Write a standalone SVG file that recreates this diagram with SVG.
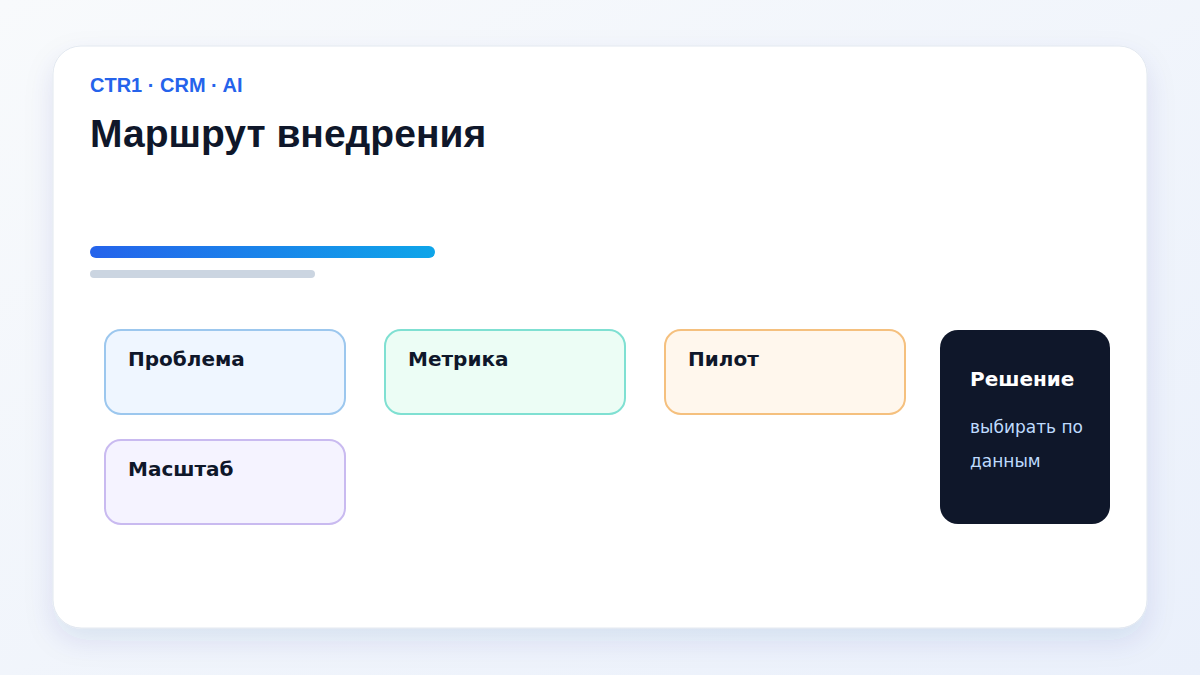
<svg xmlns="http://www.w3.org/2000/svg" width="1200" height="675" viewBox="0 0 1200 675">
<defs>
<linearGradient id="bg" x1="0" y1="0" x2="1" y2="1">
<stop offset="0" stop-color="#f8fafc"/>
<stop offset="1" stop-color="#eaf0fb"/>
</linearGradient>
<linearGradient id="bar" x1="0" y1="0" x2="1" y2="0">
<stop offset="0" stop-color="#2563eb"/>
<stop offset="1" stop-color="#0ea5e9"/>
</linearGradient>
<filter id="sh" x="-10%" y="-10%" width="120%" height="130%">
<feDropShadow dx="0" dy="12" stdDeviation="14" flood-color="#1e3a8a" flood-opacity="0.10"/>
</filter>
<style>
.t{font-family:"DejaVu Sans",sans-serif;font-weight:bold;font-size:20px;fill:#0f172a}
.box{stroke-width:2}
</style>
</defs>
<rect width="1200" height="675" fill="url(#bg)"/>
<rect x="53" y="46" width="1094" height="582" rx="28" fill="#ffffff" stroke="#e2e8f0" stroke-width="1" filter="url(#sh)"/>
<text x="90" y="92" font-family="'Liberation Sans',Arial,sans-serif" font-weight="bold" font-size="20" fill="#2563eb">CTR1 · CRM · AI</text>
<text x="90" y="147" font-family="'Liberation Sans',Arial,sans-serif" font-weight="bold" font-size="39" fill="#0f172a">Маршрут внедрения</text>
<rect x="90" y="246" width="345" height="12" rx="6" fill="url(#bar)"/>
<rect x="90" y="270" width="225" height="8" rx="4" fill="#cbd5e1"/>
<g id="connectors"></g>
<g id="problem">
<rect class="box" x="105" y="330" width="240" height="84" rx="16" fill="#eff6ff" stroke="#9cc7ee"/>
<text class="t" x="128" y="366">Проблема</text>
</g>
<g id="metric">
<rect class="box" x="385" y="330" width="240" height="84" rx="16" fill="#ecfdf5" stroke="#7fe0d2"/>
<text class="t" x="408" y="366">Метрика</text>
</g>
<g id="pilot">
<rect class="box" x="665" y="330" width="240" height="84" rx="16" fill="#fff7ed" stroke="#f5c07e"/>
<text class="t" x="688" y="366">Пилот</text>
</g>
<g id="scale">
<rect class="box" x="105" y="440" width="240" height="84" rx="16" fill="#f5f3ff" stroke="#c9baf0"/>
<text class="t" x="128" y="476">Масштаб</text>
</g>
<g id="decision">
<rect x="940" y="330" width="170" height="194" rx="18" fill="#0f172a"/>
<text x="970" y="386" font-family="'DejaVu Sans',sans-serif" font-weight="bold" font-size="20" fill="#ffffff">Решение</text>
<text x="970" y="433" font-family="'DejaVu Sans',sans-serif" font-size="17" fill="#bfdbfe">выбирать по</text>
<text x="970" y="467" font-family="'DejaVu Sans',sans-serif" font-size="17" fill="#bfdbfe">данным</text>
</g>
</svg>
